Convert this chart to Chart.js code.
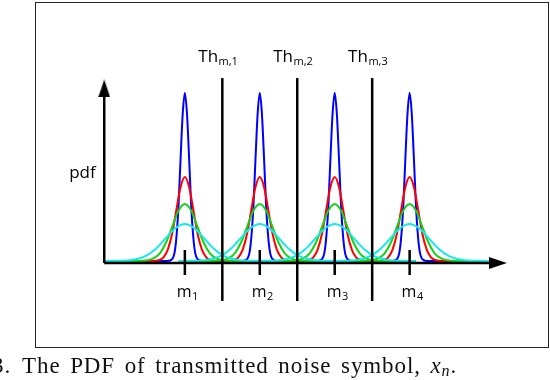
<!DOCTYPE html>
<html>
<head>
<meta charset="utf-8">
<script src="https://cdn.jsdelivr.net/npm/chart.js@4"></script>
<style>
body { margin: 0; background: #fff; width: 550px; height: 380px; overflow: hidden; position: relative; }
#box { position: absolute; left: 35px; top: 2px; width: 512px; height: 344px; border: 1.5px solid #222; }
#chart { position: absolute; left: 0; top: 0; }
#caption { position: absolute; left: -8px; top: 353px; font-family: "Liberation Serif", serif; font-size: 23px; letter-spacing: 0.9px; word-spacing: 3px; white-space: nowrap; color: #111; }
#caption sub { font-size: 0.7em; vertical-align: -0.2em; line-height: 0; }
</style>
</head>
<body>
<div id="box"></div>
<canvas id="chart" width="550" height="380"></canvas>
<div id="caption">3.<span style="margin-left:11px">The PDF of transmitted noise symbol, <i>x<sub>n</sub></i>.</span></div>
<script>
// symbol means and decision thresholds (x in symbol units)
let means = [1, 2, 3, 4];
let meanLabels = ["1", "2", "3", "4"];
let thresholds = [1.5, 2.5, 3.5];
let thresholdLabels = ["m,1", "m,2", "m,3"];

// pdf shape read around one mean: offset from the mean, height
let blueOffsets = [-1.08, -0.23, -0.17, -0.14, -0.114, -0.085, -0.057, -0.028, 0, 0.028, 0.057, 0.085, 0.114, 0.14, 0.17, 0.23, 1.08];
let blueHeights = [0, 0, 0.011, 0.044, 0.135, 0.325, 0.61, 0.88, 1.0, 0.88, 0.61, 0.325, 0.135, 0.044, 0.011, 0, 0];

let redOffsets = [-1.08, -0.45, -0.34, -0.285, -0.228, -0.17, -0.114, -0.057, 0, 0.057, 0.114, 0.17, 0.228, 0.285, 0.34, 0.45, 1.08];
let redHeights = [0, 0, 0.006, 0.022, 0.068, 0.162, 0.303, 0.441, 0.5, 0.441, 0.303, 0.162, 0.068, 0.022, 0.006, 0, 0];

let greenOffsets = [-1.08, -0.65, -0.5, -0.42, -0.334, -0.25, -0.167, -0.085, 0, 0.085, 0.167, 0.25, 0.334, 0.42, 0.5, 0.65, 1.08];
let greenHeights = [0, 0, 0.004, 0.015, 0.046, 0.11, 0.206, 0.30, 0.34, 0.30, 0.206, 0.11, 0.046, 0.015, 0.004, 0, 0];

let cyanOffsets = [-1.08, -0.9, -0.78, -0.65, -0.52, -0.39, -0.26, -0.13, 0, 0.13, 0.26, 0.39, 0.52, 0.65, 0.78, 0.9, 1.08];
let cyanHeights = [0, 0.001, 0.003, 0.010, 0.030, 0.071, 0.133, 0.194, 0.22, 0.194, 0.133, 0.071, 0.030, 0.010, 0.003, 0.001, 0];

// arrow head used as point style
function arrowHead() {
    let c = document.createElement("canvas");
    c.width = 12;
    c.height = 18;
    let g = c.getContext("2d");
    g.fillStyle = "#000";
    g.beginPath();
    g.moveTo(6, 0);
    g.lineTo(12, 18);
    g.lineTo(0, 18);
    g.closePath();
    g.fill();
    return c;
}
let arrow = arrowHead();

function peak(offsets, heights, m) {
    return offsets.map((o, i) => ({ x: m + o, y: heights[i] }));
}

function blackLine(points, width) {
    return {
        data: points,
        borderColor: "#000",
        borderWidth: width,
        pointRadius: 0,
        tension: 0
    };
}

let datasets = [];

// axes, thresholds and ticks on top
let axisX = -0.076, axisY = -0.012;
datasets.push(blackLine([{ x: axisX, y: axisY }, { x: axisX, y: 0.99 }], 2.5));
datasets.push(blackLine([{ x: axisX, y: axisY }, { x: 5.09, y: axisY }], 2.5));
datasets.push({ data: [{ x: axisX, y: 1.027 }], showLine: false, pointStyle: arrow, pointRadius: 6, pointRotation: 0 });
datasets.push({ data: [{ x: 5.178, y: axisY }], showLine: false, pointStyle: arrow, pointRadius: 6, pointRotation: 90 });
for (let t of thresholds) {
    datasets.push(blackLine([{ x: t, y: -0.238 }, { x: t, y: 1.089 }], 2.5));
}
for (let m of means) {
    datasets.push(blackLine([{ x: m, y: 0.065 }, { x: m, y: -0.083 }], 2.5));
}

// curves, first ones drawn on top
let curves = [
    [cyanOffsets, cyanHeights, "#12eaea"],
    [greenOffsets, greenHeights, "#16d216"],
    [redOffsets, redHeights, "#ff0000"],
    [blueOffsets, blueHeights, "#0000ff"]
];
for (let c of curves) {
    for (let m of means) {
        datasets.push({
            data: peak(c[0], c[1], m),
            borderColor: c[2],
            borderWidth: 2,
            pointRadius: 0,
            cubicInterpolationMode: "monotone"
        });
    }
}

// text labels placed through the scales
const labels = {
    id: "labels",
    afterDatasetsDraw(chart) {
        let ctx = chart.ctx;
        let sx = chart.scales.x, sy = chart.scales.y;
        ctx.save();
        ctx.fillStyle = "#000";
        ctx.textBaseline = "alphabetic";
        ctx.textAlign = "left";

        function withSub(main, sub, cx, by, size, subSize, drop) {
            ctx.font = size + 'px "Open Sans"';
            let w1 = ctx.measureText(main).width;
            ctx.font = subSize + 'px "Open Sans"';
            let w2 = ctx.measureText(sub).width;
            let left = cx - (w1 + w2) / 2;
            ctx.font = size + 'px "Open Sans"';
            ctx.fillText(main, left, by);
            ctx.font = subSize + 'px "Open Sans"';
            ctx.fillText(sub, left + w1 + 0.5, by + drop);
        }

        thresholds.forEach((t, i) => {
            withSub("Th", thresholdLabels[i], sx.getPixelForValue(t) - 4.5, sy.getPixelForValue(1.185), 17, 11, 3);
        });
        means.forEach((m, i) => {
            withSub("m", meanLabels[i], sx.getPixelForValue(m) + 2.5, sy.getPixelForValue(-0.214), 16, 11, 3);
        });

        ctx.font = '17px "Open Sans"';
        ctx.fillText("pdf", sx.getPixelForValue(-0.544), sy.getPixelForValue(0.494));
        ctx.restore();
    }
};

new Chart(document.getElementById("chart"), {
    type: "line",
    data: { datasets: datasets },
    options: {
        responsive: false,
        animation: false,
        events: [],
        layout: { autoPadding: false, padding: { left: 35, right: 1, top: 3, bottom: 33 } },
        plugins: { legend: { display: false }, tooltip: { enabled: false } },
        scales: {
            x: { type: "linear", display: false, min: -1, max: 5.86 },
            y: { type: "linear", display: false, min: -0.512, max: 1.536 }
        }
    },
    plugins: [labels]
});
</script>
</body>
</html>
